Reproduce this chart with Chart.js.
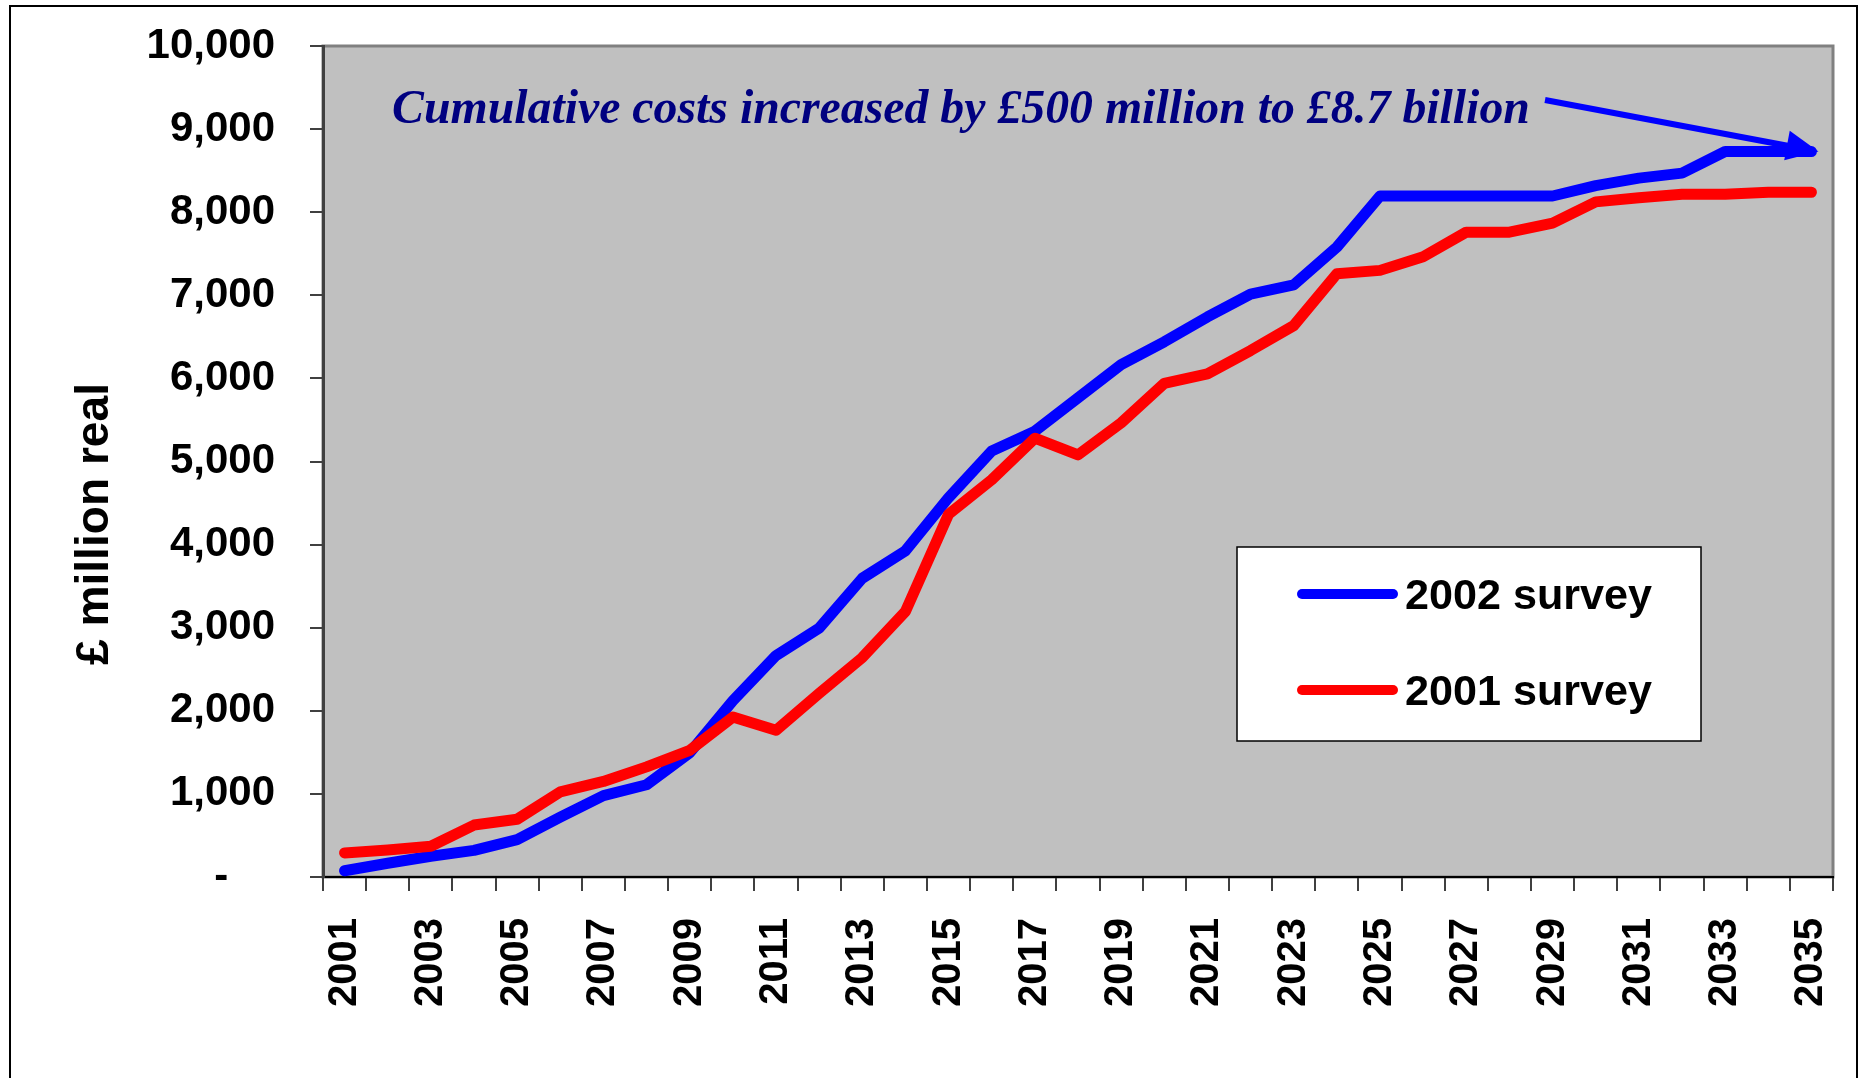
<!DOCTYPE html>
<html><head><meta charset="utf-8">
<script src="https://cdn.jsdelivr.net/npm/chart.js@4.4.0/dist/chart.umd.min.js"></script>
<style>
html,body{margin:0;padding:0;background:#fff;}
#wrap{position:relative;width:1862px;height:1078px;overflow:hidden;background:#fff;}
#frame{position:absolute;left:9px;top:5px;width:1849px;height:1100px;border:2px solid #000;box-sizing:border-box;}
canvas{position:absolute;left:0;top:0;}
</style></head><body>
<div id="wrap"><div id="frame"></div><canvas id="c" width="1862" height="1078"></canvas></div>
<script>
const years = ['2001','2002','2003','2004','2005','2006','2007','2008','2009','2010',
  '2011','2012','2013','2014','2015','2016','2017','2018','2019','2020',
  '2021','2022','2023','2024','2025','2026','2027','2028','2029','2030',
  '2031','2032','2033','2034','2035'];
const survey2002 = [75,165,250,320,450,720,980,1110,1495,2120,2665,2995,3595,3925,4565,5125,5365,5765,6165,6440,6740,7015,7125,7580,8195,8195,8195,8195,8195,8320,8410,8470,8730,8730,8730];
const survey2001 = [290,325,370,625,695,1025,1150,1325,1525,1925,1765,2210,2640,3195,4365,4780,5280,5080,5465,5940,6055,6335,6635,7260,7300,7465,7760,7760,7868,8124,8175,8215,8215,8240,8240];
const yTickValues = [0,1000,2000,3000,4000,5000,6000,7000,8000,9000,10000];
const seriesNames = ['2002 survey','2001 survey'];
const seriesColors = ['#0000FF','#FF0000'];
const yTitle = '£ million real';
const noteText = 'Cumulative costs increased by £500 million to £8.7 billion';

const SANS = '"Liberation Sans", Arial, sans-serif';
const SERIF = '"Liberation Serif", "Times New Roman", serif';

const plotBg = {
  id: 'plotBg',
  beforeDraw(chart) {
    const {ctx, chartArea: a} = chart;
    ctx.save();
    ctx.fillStyle = '#C0C0C0';
    ctx.fillRect(a.left, a.top, a.right - a.left, a.bottom - a.top);
    ctx.strokeStyle = '#808080';
    ctx.lineWidth = 3;
    ctx.strokeRect(a.left, a.top, a.right - a.left, a.bottom - a.top);
    ctx.restore();
  }
};

const extras = {
  id: 'extras',
  afterDraw(chart) {
    const {ctx} = chart;
    const xs = chart.scales.x, ys = chart.scales.y;
    ctx.save();
    // y axis title
    ctx.save();
    ctx.font = 'bold 46px ' + SANS;
    ctx.fillStyle = '#000000';
    ctx.textAlign = 'center';
    ctx.textBaseline = 'middle';
    const tw = ctx.measureText(yTitle).width;
    ctx.translate(95, 524);
    ctx.rotate(-Math.PI / 2);
    ctx.scale(282 / tw, 1);
    ctx.fillText(yTitle, 0, 0);
    ctx.restore();
    // annotation text
    const targetW = 1138;
    ctx.font = 'italic bold 44px ' + SERIF;
    const w44 = ctx.measureText(noteText).width;
    const fs = 44 * targetW / w44;
    ctx.font = 'italic bold ' + fs.toFixed(2) + 'px ' + SERIF;
    ctx.fillStyle = '#000080';
    ctx.textAlign = 'left';
    ctx.textBaseline = 'alphabetic';
    const tx = 392, ty = 123;
    ctx.fillText(noteText, tx, ty);
    // arrow
    const last = survey2002.length - 1;
    const tipX = xs.getPixelForValue(last) + 7;
    const tipY = ys.getPixelForValue(survey2002[last]);
    const sx = tx + targetW + 15, sy = 100;
    const ang = Math.atan2(tipY - sy, tipX - sx);
    const headLen = 32, headHalf = 15;
    const bx = tipX - headLen * Math.cos(ang), by = tipY - headLen * Math.sin(ang);
    ctx.strokeStyle = '#0000FF';
    ctx.lineWidth = 6;
    ctx.beginPath();
    ctx.moveTo(sx, sy);
    ctx.lineTo(bx + 2 * Math.cos(ang), by + 2 * Math.sin(ang));
    ctx.stroke();
    ctx.fillStyle = '#0000FF';
    ctx.beginPath();
    ctx.moveTo(tipX, tipY);
    ctx.lineTo(bx - headHalf * Math.sin(ang), by + headHalf * Math.cos(ang));
    ctx.lineTo(bx + headHalf * Math.sin(ang), by - headHalf * Math.cos(ang));
    ctx.closePath();
    ctx.fill();
    // legend
    const lx = 1237, ly = 547, lw = 464, lh = 194;
    ctx.fillStyle = '#FFFFFF';
    ctx.fillRect(lx, ly, lw, lh);
    ctx.strokeStyle = '#000000';
    ctx.lineWidth = 1.5;
    ctx.strokeRect(lx, ly, lw, lh);
    ctx.font = 'bold 42px ' + SANS;
    ctx.textBaseline = 'alphabetic';
    const rowsY = [594, 690];
    seriesNames.forEach((name, i) => {
      ctx.strokeStyle = seriesColors[i];
      ctx.lineWidth = 10;
      ctx.lineCap = 'round';
      ctx.beginPath();
      ctx.moveTo(1302, rowsY[i]);
      ctx.lineTo(1393, rowsY[i]);
      ctx.stroke();
      ctx.fillStyle = '#000000';
      const nw = ctx.measureText(name).width;
      ctx.save();
      ctx.translate(1405, rowsY[i] + 15);
      ctx.scale(247 / nw, 1);
      ctx.fillText(name, 0, 0);
      ctx.restore();
    });
    ctx.restore();
  }
};

new Chart(document.getElementById('c'), {
  type: 'line',
  data: {
    labels: years,
    datasets: [
      { label: seriesNames[0], data: survey2002, borderColor: seriesColors[0], backgroundColor: seriesColors[0],
        borderWidth: 11, pointRadius: 0, tension: 0, borderCapStyle: 'round', borderJoinStyle: 'round', order: 1 },
      { label: seriesNames[1], data: survey2001, borderColor: seriesColors[1], backgroundColor: seriesColors[1],
        borderWidth: 11, pointRadius: 0, tension: 0, borderCapStyle: 'round', borderJoinStyle: 'round', order: 0 }
    ]
  },
  options: {
    responsive: false,
    animation: false,
    devicePixelRatio: 1,
    layout: { padding: { left: 72, top: 46, right: 29, bottom: 0 } },
    plugins: { legend: { display: false }, tooltip: { enabled: false }, title: { display: false } },
    scales: {
      x: {
        type: 'category',
        offset: true,
        grid: { offset: true, drawOnChartArea: false, drawTicks: true, tickLength: 14, tickColor: '#404040', lineWidth: 2 },
        border: { display: true, color: '#000000', width: 2 },
        ticks: {
          autoSkip: false, minRotation: 90, maxRotation: 90, padding: 27, color: '#000000',
          font: { family: SANS, size: 40, weight: 'bold' },
          callback: function(v, i) { return i % 2 === 0 ? this.getLabelForValue(v) : ''; }
        },
        afterFit(scale) { scale.height = 1078 - 877; scale.paddingLeft = 0; scale.paddingRight = 0; }
      },
      y: {
        min: 0, max: 10000,
        afterBuildTicks(scale) { scale.ticks = yTickValues.map(v => ({ value: v })); },
        grid: { drawOnChartArea: false, drawTicks: true, tickLength: 13, tickColor: '#404040', lineWidth: 2 },
        border: { display: true, color: '#404040', width: 3 },
        ticks: {
          padding: 35, color: '#000000',
          font: { family: SANS, size: 42, weight: 'bold' },
          callback: v => v === 0 ? '-    ' : v.toLocaleString('en-US')
        },
        title: { display: false },
        afterFit(scale) { scale.width = 323 - 72; scale.paddingTop = 0; scale.paddingBottom = 0; }
      }
    }
  },
  plugins: [plotBg, extras]
});
</script>
</body></html>
